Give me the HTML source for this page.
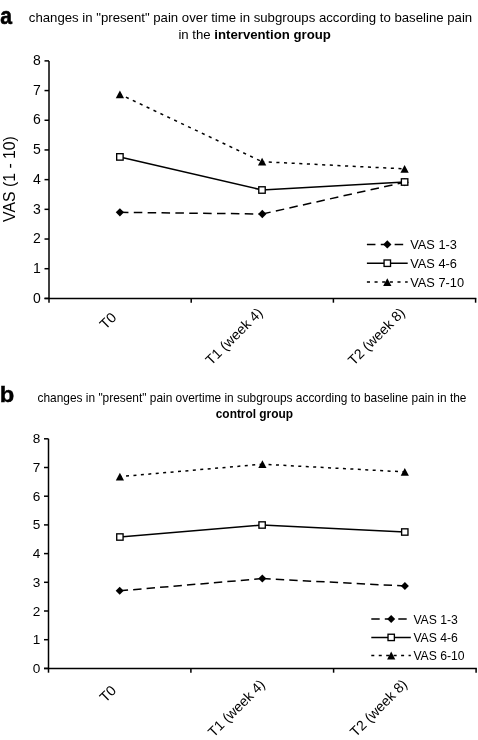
<!DOCTYPE html>
<html><head><meta charset="utf-8"><style>
html,body{margin:0;padding:0;background:#fff;}
body{width:478px;height:740px;overflow:hidden;}
svg{display:block;font-family:"Liberation Sans", sans-serif;will-change:transform;}
</style></head><body>
<svg width="478" height="740" viewBox="0 0 478 740" fill="#000">
<line x1="49" y1="60.88" x2="49" y2="302.70" stroke="#000" stroke-width="1.5"/>
<line x1="44.5" y1="298.40" x2="476.35" y2="298.40" stroke="#000" stroke-width="1.5"/>
<line x1="44.5" y1="298.40" x2="49" y2="298.40" stroke="#000" stroke-width="1.5"/>
<text x="40.8" y="302.60" text-anchor="end" font-size="14">0</text>
<line x1="44.5" y1="268.71" x2="49" y2="268.71" stroke="#000" stroke-width="1.5"/>
<text x="40.8" y="272.91" text-anchor="end" font-size="14">1</text>
<line x1="44.5" y1="239.02" x2="49" y2="239.02" stroke="#000" stroke-width="1.5"/>
<text x="40.8" y="243.22" text-anchor="end" font-size="14">2</text>
<line x1="44.5" y1="209.33" x2="49" y2="209.33" stroke="#000" stroke-width="1.5"/>
<text x="40.8" y="213.53" text-anchor="end" font-size="14">3</text>
<line x1="44.5" y1="179.64" x2="49" y2="179.64" stroke="#000" stroke-width="1.5"/>
<text x="40.8" y="183.84" text-anchor="end" font-size="14">4</text>
<line x1="44.5" y1="149.95" x2="49" y2="149.95" stroke="#000" stroke-width="1.5"/>
<text x="40.8" y="154.15" text-anchor="end" font-size="14">5</text>
<line x1="44.5" y1="120.26" x2="49" y2="120.26" stroke="#000" stroke-width="1.5"/>
<text x="40.8" y="124.46" text-anchor="end" font-size="14">6</text>
<line x1="44.5" y1="90.57" x2="49" y2="90.57" stroke="#000" stroke-width="1.5"/>
<text x="40.8" y="94.77" text-anchor="end" font-size="14">7</text>
<line x1="44.5" y1="60.88" x2="49" y2="60.88" stroke="#000" stroke-width="1.5"/>
<text x="40.8" y="65.08" text-anchor="end" font-size="14">8</text>
<line x1="191.2" y1="298.40" x2="191.2" y2="302.70" stroke="#000" stroke-width="1.5"/>
<line x1="333.4" y1="298.40" x2="333.4" y2="302.70" stroke="#000" stroke-width="1.5"/>
<line x1="475.6" y1="298.40" x2="475.6" y2="302.70" stroke="#000" stroke-width="1.5"/>
<line x1="119.90" y1="212.30" x2="262.30" y2="214.00" stroke="#000" stroke-width="1.5" stroke-dasharray="8.55 5.32"/>
<line x1="262.30" y1="214.00" x2="404.60" y2="182.20" stroke="#000" stroke-width="1.5" stroke-dasharray="8.55 5.32"/>
<line x1="119.90" y1="156.90" x2="262.00" y2="190.00" stroke="#000" stroke-width="1.5"/>
<line x1="262.00" y1="190.00" x2="404.60" y2="182.00" stroke="#000" stroke-width="1.5"/>
<line x1="119.90" y1="94.30" x2="262.10" y2="161.70" stroke="#000" stroke-width="1.5" stroke-dasharray="3.1 4.54" stroke-dashoffset="1.0"/>
<line x1="262.10" y1="161.70" x2="404.60" y2="168.90" stroke="#000" stroke-width="1.5" stroke-dasharray="3.1 4.54" stroke-dashoffset="1.0"/>
<path d="M115.75 212.30L119.90 208.15L124.05 212.30L119.90 216.45Z"/>
<path d="M258.15 214.00L262.30 209.85L266.45 214.00L262.30 218.15Z"/>
<path d="M400.45 182.20L404.60 178.05L408.75 182.20L404.60 186.35Z"/>
<rect x="116.68" y="153.68" width="6.45" height="6.45" fill="#fff" stroke="#000" stroke-width="1.35"/>
<rect x="258.77" y="186.78" width="6.45" height="6.45" fill="#fff" stroke="#000" stroke-width="1.35"/>
<rect x="401.38" y="178.78" width="6.45" height="6.45" fill="#fff" stroke="#000" stroke-width="1.35"/>
<path d="M119.90 90.40L124.05 98.20L115.75 98.20Z"/>
<path d="M262.10 157.80L266.25 165.60L257.95 165.60Z"/>
<path d="M404.60 165.00L408.75 172.80L400.45 172.80Z"/>
<line x1="366.90" y1="244.40" x2="403.90" y2="244.40" stroke="#000" stroke-width="1.5" stroke-dasharray="8.55 5.32"/>
<path d="M383.15 244.40L387.30 240.25L391.45 244.40L387.30 248.55Z"/>
<text x="410.2" y="249.01" font-size="12.8">VAS 1-3</text>
<line x1="366.90" y1="263.20" x2="407.70" y2="263.20" stroke="#000" stroke-width="1.5"/>
<rect x="384.07" y="259.97" width="6.45" height="6.45" fill="#fff" stroke="#000" stroke-width="1.35"/>
<text x="410.2" y="267.81" font-size="12.8">VAS 4-6</text>
<line x1="366.90" y1="282.10" x2="407.70" y2="282.10" stroke="#000" stroke-width="1.5" stroke-dasharray="3.1 4.54"/>
<path d="M387.30 278.20L391.45 286.00L383.15 286.00Z"/>
<text x="410.2" y="286.71" font-size="12.8">VAS 7-10</text>
<line x1="48.5" y1="438.80" x2="48.5" y2="672.70" stroke="#000" stroke-width="1.5"/>
<line x1="44.0" y1="668.40" x2="476.85" y2="668.40" stroke="#000" stroke-width="1.5"/>
<line x1="44.0" y1="668.40" x2="48.5" y2="668.40" stroke="#000" stroke-width="1.5"/>
<text x="40.2" y="672.95" text-anchor="end" font-size="13.6">0</text>
<line x1="44.0" y1="639.70" x2="48.5" y2="639.70" stroke="#000" stroke-width="1.5"/>
<text x="40.2" y="644.25" text-anchor="end" font-size="13.6">1</text>
<line x1="44.0" y1="611.00" x2="48.5" y2="611.00" stroke="#000" stroke-width="1.5"/>
<text x="40.2" y="615.55" text-anchor="end" font-size="13.6">2</text>
<line x1="44.0" y1="582.30" x2="48.5" y2="582.30" stroke="#000" stroke-width="1.5"/>
<text x="40.2" y="586.85" text-anchor="end" font-size="13.6">3</text>
<line x1="44.0" y1="553.60" x2="48.5" y2="553.60" stroke="#000" stroke-width="1.5"/>
<text x="40.2" y="558.15" text-anchor="end" font-size="13.6">4</text>
<line x1="44.0" y1="524.90" x2="48.5" y2="524.90" stroke="#000" stroke-width="1.5"/>
<text x="40.2" y="529.45" text-anchor="end" font-size="13.6">5</text>
<line x1="44.0" y1="496.20" x2="48.5" y2="496.20" stroke="#000" stroke-width="1.5"/>
<text x="40.2" y="500.75" text-anchor="end" font-size="13.6">6</text>
<line x1="44.0" y1="467.50" x2="48.5" y2="467.50" stroke="#000" stroke-width="1.5"/>
<text x="40.2" y="472.05" text-anchor="end" font-size="13.6">7</text>
<line x1="44.0" y1="438.80" x2="48.5" y2="438.80" stroke="#000" stroke-width="1.5"/>
<text x="40.2" y="443.35" text-anchor="end" font-size="13.6">8</text>
<line x1="190.9" y1="668.40" x2="190.9" y2="672.70" stroke="#000" stroke-width="1.5"/>
<line x1="333.6" y1="668.40" x2="333.6" y2="672.70" stroke="#000" stroke-width="1.5"/>
<line x1="476.1" y1="668.40" x2="476.1" y2="672.70" stroke="#000" stroke-width="1.5"/>
<line x1="119.70" y1="590.80" x2="262.30" y2="578.60" stroke="#000" stroke-width="1.5" stroke-dasharray="8.4 5.1"/>
<line x1="262.30" y1="578.60" x2="404.90" y2="586.00" stroke="#000" stroke-width="1.5" stroke-dasharray="8.4 5.1"/>
<line x1="119.90" y1="537.00" x2="262.10" y2="525.00" stroke="#000" stroke-width="1.5"/>
<line x1="262.10" y1="525.00" x2="404.80" y2="532.00" stroke="#000" stroke-width="1.5"/>
<line x1="119.90" y1="476.60" x2="262.40" y2="464.20" stroke="#000" stroke-width="1.5" stroke-dasharray="3 4.45" stroke-dashoffset="1.3"/>
<line x1="262.40" y1="464.20" x2="404.80" y2="471.90" stroke="#000" stroke-width="1.5" stroke-dasharray="3 4.45" stroke-dashoffset="1.3"/>
<path d="M115.70 590.80L119.70 586.80L123.70 590.80L119.70 594.80Z"/>
<path d="M258.30 578.60L262.30 574.60L266.30 578.60L262.30 582.60Z"/>
<path d="M400.90 586.00L404.90 582.00L408.90 586.00L404.90 590.00Z"/>
<rect x="116.73" y="533.83" width="6.35" height="6.35" fill="#fff" stroke="#000" stroke-width="1.35"/>
<rect x="258.93" y="521.83" width="6.35" height="6.35" fill="#fff" stroke="#000" stroke-width="1.35"/>
<rect x="401.62" y="528.83" width="6.35" height="6.35" fill="#fff" stroke="#000" stroke-width="1.35"/>
<path d="M119.90 472.70L124.00 480.50L115.80 480.50Z"/>
<path d="M262.40 460.30L266.50 468.10L258.30 468.10Z"/>
<path d="M404.80 468.00L408.90 475.80L400.70 475.80Z"/>
<line x1="371.30" y1="619.10" x2="407.40" y2="619.10" stroke="#000" stroke-width="1.5" stroke-dasharray="8.4 5.1"/>
<path d="M387.20 619.10L391.20 615.10L395.20 619.10L391.20 623.10Z"/>
<text x="413.4" y="623.89" font-size="12.2">VAS 1-3</text>
<line x1="371.30" y1="637.40" x2="410.80" y2="637.40" stroke="#000" stroke-width="1.5"/>
<rect x="388.02" y="634.23" width="6.35" height="6.35" fill="#fff" stroke="#000" stroke-width="1.35"/>
<text x="413.4" y="642.19" font-size="12.2">VAS 4-6</text>
<line x1="371.30" y1="655.50" x2="410.80" y2="655.50" stroke="#000" stroke-width="1.5" stroke-dasharray="3 4.45"/>
<path d="M391.20 651.60L395.30 659.40L387.10 659.40Z"/>
<text x="413.4" y="660.29" font-size="12.2">VAS 6-10</text>
<text transform="translate(0.3 23.5) scale(0.86 1)" font-size="24.6" font-weight="bold" stroke="#000" stroke-width="0.6">a</text>
<text x="250.5" y="22.3" text-anchor="middle" font-size="13.2">changes in "present" pain over time in subgroups according to baseline pain</text>
<text x="254.6" y="39.2" text-anchor="middle" font-size="13.2">in the <tspan font-weight="bold">intervention group</tspan></text>
<text transform="translate(-0.2 401.65) scale(1.05 1)" font-size="22.6" font-weight="bold" stroke="#000" stroke-width="0.4">b</text>
<text x="252" y="402.4" text-anchor="middle" font-size="11.9">changes in "present" pain overtime in subgroups according to baseline pain in the</text>
<text x="254.4" y="417.7" text-anchor="middle" font-size="11.9" font-weight="bold">control group</text>
<text transform="translate(14.8 179) rotate(-90)" text-anchor="middle" font-size="15.8">VAS (1 - 10)</text>
<text transform="translate(117.30 318.40) rotate(-45)" text-anchor="end" font-size="14.2">T0</text>
<text transform="translate(263.50 313.60) rotate(-45)" text-anchor="end" font-size="14">T1 (week 4)</text>
<text transform="translate(405.90 313.70) rotate(-45)" text-anchor="end" font-size="14">T2 (week 8)</text>
<text transform="translate(117.20 691.40) rotate(-45)" text-anchor="end" font-size="14.2">T0</text>
<text transform="translate(265.90 685.40) rotate(-45)" text-anchor="end" font-size="14">T1 (week 4)</text>
<text transform="translate(408.10 685.30) rotate(-45)" text-anchor="end" font-size="14">T2 (week 8)</text>
</svg>
</body></html>
